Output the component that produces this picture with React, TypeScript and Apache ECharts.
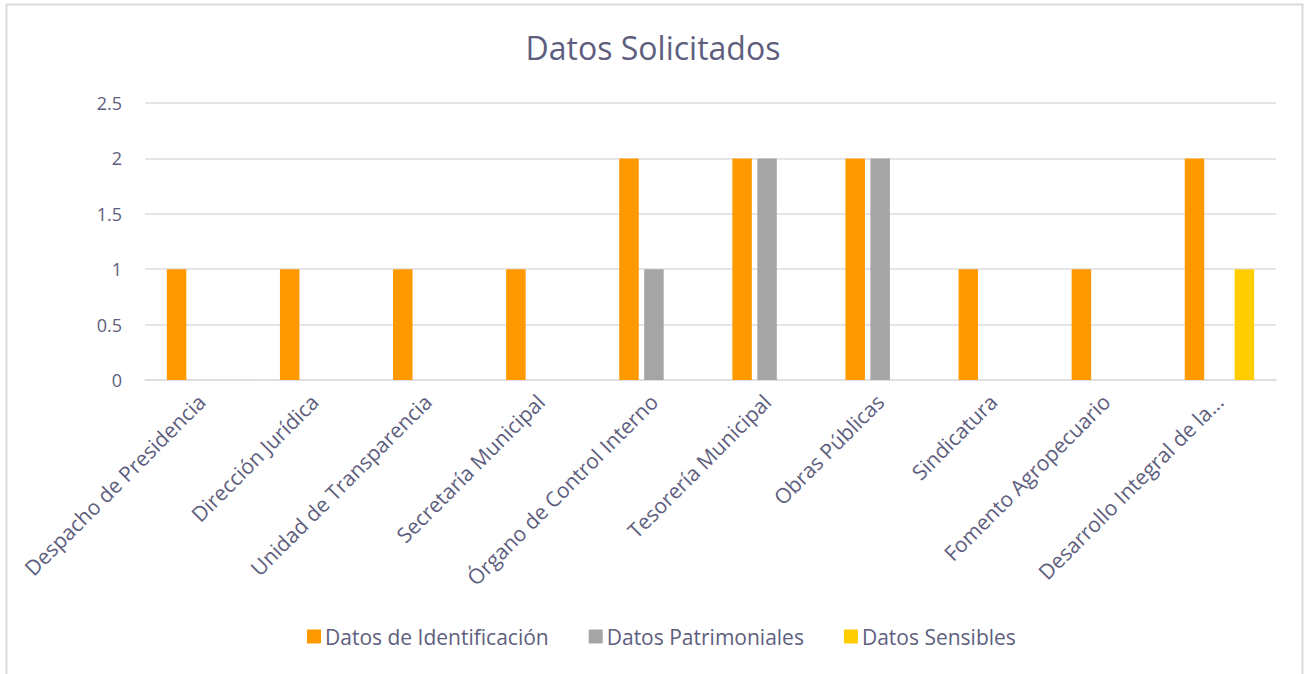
import React, { useEffect, useRef } from "react";
import * as echarts from "echarts";

const categories = [
  "Despacho de Presidencia",
  "Dirección Jurídica",
  "Unidad de Transparencia",
  "Secretaría Municipal",
  "Órgano de Control Interno",
  "Tesorería Municipal",
  "Obras Públicas",
  "Sindicatura",
  "Fomento Agropecuario",
  "Desarrollo Integral de la...",
];
const seriesNames = ["Datos de Identificación", "Datos Patrimoniales", "Datos Sensibles"];
const identificacion = [1, 1, 1, 1, 2, 2, 2, 1, 1, 2];
const patrimoniales = [0, 0, 0, 0, 1, 2, 2, 0, 0, 0];
const sensibles = [0, 0, 0, 0, 0, 0, 0, 0, 0, 1];
const colors = ["#FF9900", "#A5A5A5", "#FFCC00"];

const textColor = "#5E5E7E";
const font = "'Open Sans', 'Noto Sans', sans-serif";

export default function App() {
  const ref = useRef<HTMLDivElement>(null);
  useEffect(() => {
    if (!ref.current) return;
    const chart = echarts.init(ref.current, null, { renderer: "svg" });
    const values = [identificacion, patrimoniales, sensibles];
    chart.setOption({
      animation: false,
      backgroundColor: "#ffffff",
      textStyle: { fontFamily: font },
      title: {
        text: "Datos Solicitados",
        left: "center",
        top: 26,
        textStyle: { color: textColor, fontSize: 32, fontWeight: "normal", fontFamily: font },
      },
      graphic: [
        {
          type: "rect",
          shape: { x: 6.5, y: 4.5, width: 1296, height: 700 },
          style: { fill: "none", stroke: "#D9D9DE", lineWidth: 2 },
          silent: true,
        },
      ],
      legend: {
        bottom: 22,
        left: 302,
        itemWidth: 14,
        itemHeight: 14,
        itemGap: 40,
        icon: "rect",
        textStyle: { color: textColor, fontSize: 21, fontFamily: font, padding: [0, 0, 0, -1] },
        data: seriesNames,
      },
      grid: { left: 145, right: 30, top: 103, bottom: 294, containLabel: false },
      xAxis: {
        type: "category",
        data: categories,
        axisLine: { show: true, lineStyle: { color: "#DCDCE2", width: 1.5 } },
        axisTick: { show: false },
        axisLabel: {
          rotate: 45,
          interval: 0,
          color: textColor,
          fontSize: 21,
          fontFamily: font,
          margin: 18,
        },
      },
      yAxis: {
        type: "value",
        min: 0,
        max: 2.5,
        interval: 0.5,
        axisLine: { show: false },
        axisTick: { show: false },
        splitLine: { lineStyle: { color: "#DCDCE2", width: 1.5 } },
        axisLabel: { color: textColor, fontSize: 18, fontFamily: font, margin: 23 },
      },
      series: seriesNames.map((name, i) => ({
        name,
        type: "bar",
        data: values[i],
        barWidth: 19.5,
        barGap: "28%",
        itemStyle: { color: colors[i] },
      })),
    });
    return () => chart.dispose();
  }, []);
  return (
    <div
      ref={ref}
      style={{ position: "fixed", left: 0, top: 0, width: 1306, height: 674 }}
    />
  );
}
